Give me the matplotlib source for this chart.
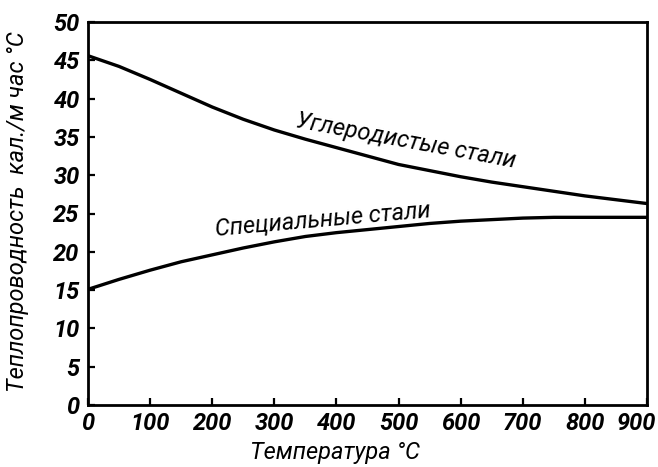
import matplotlib
matplotlib.use("Agg")
import matplotlib.pyplot as plt
from matplotlib.transforms import ScaledTranslation

# Thermal conductivity of steels vs temperature
temperature = [0, 50, 100, 150, 200, 250, 300, 350, 400, 450,
               500, 550, 600, 650, 700, 750, 800, 850, 900]
carbon_steel = [45.6, 44.2, 42.5, 40.7, 38.9, 37.3, 35.9, 34.7, 33.6, 32.5,
                31.4, 30.6, 29.8, 29.1, 28.5, 27.9, 27.3, 26.8, 26.3]
special_steel = [15.1, 16.4, 17.6, 18.7, 19.6, 20.5, 21.3, 22.0, 22.5, 22.9,
                 23.3, 23.7, 24.0, 24.2, 24.4, 24.5, 24.5, 24.5, 24.5]

x_ticks = [0, 100, 200, 300, 400, 500, 600, 700, 800, 900]
y_ticks = [0, 5, 10, 15, 20, 25, 30, 35, 40, 45, 50]

carbon_label = "Углеродистые стали"
special_label = "Специальные стали"
x_title = "Температура °С"
y_title = "Теплопроводность  кал./м час °С"

W, H = 658, 467
fig = plt.figure(figsize=(W / 100, H / 100), dpi=100)
ax = fig.add_axes([88 / W, (H - 405) / H, (647 - 88) / W, (405 - 22) / H])

ax.plot(temperature, carbon_steel, color="black", lw=2.4,
        solid_capstyle="butt", solid_joinstyle="round")
ax.plot(temperature, special_steel, color="black", lw=2.4,
        solid_capstyle="butt", solid_joinstyle="round")

ax.set_xlim(0, 900)
ax.set_ylim(0, 50)
ax.set_xticks(x_ticks)
ax.set_yticks(y_ticks)

font = ["Roboto", "DejaVu Sans"]
tick_font = dict(family=font, style="italic", weight="bold", size=17)
ax.set_xticklabels([str(v) for v in x_ticks], fontdict=tick_font)
ax.set_yticklabels([str(v) for v in y_ticks], fontdict=tick_font)
ax.tick_params(direction="in", length=5, width=1.6, colors="black")
ax.tick_params(axis="x", pad=5)
ax.tick_params(axis="y", pad=6)

# keep the last temperature label inside the figure
last = ax.get_xticklabels()[-1]
last.set_transform(last.get_transform() + ScaledTranslation(-11 / 100, 0, fig.dpi_scale_trans))

for s in ax.spines.values():
    s.set_linewidth(2.0)
    s.set_color("black")

label_font = dict(family=font, style="italic", size=17, color="black")
ax.text(512, 34.5, carbon_label, rotation=-10.5, ha="center", va="center", **label_font)
ax.text(378, 24.2, special_label, rotation=5, ha="center", va="center", **label_font)

fig.text(335 / W, 1 - 453 / H, x_title, ha="center", va="center", **label_font)
fig.text(18 / W, 1 - 212 / H, y_title, ha="center", va="center", rotation=90, **label_font)

fig.savefig("out.png", dpi=100, facecolor="white")
